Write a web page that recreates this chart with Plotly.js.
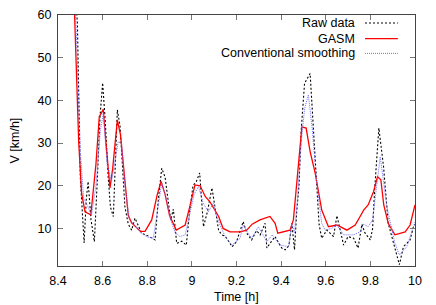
<!DOCTYPE html>
<html><head><meta charset="utf-8">
<script src="https://cdn.plot.ly/plotly-3.0.1.min.js"></script>
<style>html,body{margin:0;padding:0;background:#fff}#chart{width:436px;height:305px}</style>
</head><body><div id="chart"></div>
<script>
// Raw data
var rawT = [8.46,8.487,8.50,8.517,8.527,8.535,8.548,8.563,8.575,8.588,8.60,8.612,8.625,8.635,8.648,8.658,8.666,8.678,8.69,8.70,8.715,8.73,8.745,8.775,8.805,8.835,8.85,8.865,8.88,8.895,8.905,8.917,8.932,8.955,8.975,8.99,9.005,9.02,9.035,9.052,9.07,9.09,9.105,9.12,9.135,9.15,9.165,9.18,9.20,9.23,9.246,9.268,9.29,9.306,9.328,9.336,9.35,9.373,9.39,9.403,9.418,9.435,9.448,9.46,9.47,9.48,9.49,9.505,9.53,9.545,9.56,9.57,9.582,9.605,9.635,9.65,9.663,9.68,9.70,9.725,9.745,9.762,9.775,9.80,9.81,9.82,9.838,9.859,9.88,9.904,9.93,9.948,9.978,9.993,10.0];
var rawV = [80,58,22,6.6,17,21,12,6.9,20,36,44.1,35,22,15,12.8,28,37.8,34,22,15,11,9.6,12.4,8.9,8.2,7.3,17,24.1,22,16,12,14.5,6.5,7,6.1,14,20,21,23,10.4,14,19.5,14,9.5,8.5,8.1,7,5.7,6.9,11.6,8.9,7.3,9.5,8.5,11.2,5.4,6.5,8.1,6.5,5.4,5,6,11.2,5,14,20,33,44,46.3,32.3,19,11,7.7,9.6,8.1,13,10,6.1,8.1,7.7,5.4,11,9,7.3,10,19.8,33.5,24.5,11.2,6.5,1.5,5.7,7.3,10.4,11];
// GASM
var gasmT = [8.465,8.48,8.493,8.506,8.521,8.547,8.57,8.585,8.603,8.615,8.633,8.645,8.666,8.68,8.70,8.715,8.73,8.77,8.79,8.82,8.845,8.862,8.88,8.90,8.93,8.97,8.99,9.014,9.037,9.06,9.08,9.10,9.12,9.14,9.171,9.216,9.246,9.27,9.305,9.35,9.373,9.385,9.44,9.455,9.47,9.493,9.512,9.53,9.553,9.582,9.612,9.65,9.695,9.732,9.754,9.77,9.79,9.814,9.832,9.847,9.86,9.88,9.91,9.956,9.978,10.0];
var gasmV = [75,50,30,18.2,13.9,13.2,25,36.2,37.9,30,19.5,24,35.4,32,20,13,11.3,9.3,9.3,12,18,21,18,13,9.6,10.8,15,20.2,20,17.5,16.3,14.5,12.8,10,9.2,9.2,9.6,11,12,12.8,11.2,8.9,9.6,12,20.6,33.8,33.5,28,22.9,14.3,10.4,10.8,9.6,10.8,12.8,14.3,15.5,18.6,22.1,21.4,15.5,11.2,8.5,9.2,10.8,15.5];
// Conventional smoothing
var convT = [8.465,8.487,8.50,8.515,8.535,8.55,8.57,8.59,8.603,8.62,8.64,8.67,8.685,8.70,8.72,8.74,8.77,8.80,8.827,8.845,8.865,8.885,8.905,8.925,8.947,8.97,8.99,9.01,9.03,9.05,9.074,9.096,9.11,9.126,9.15,9.18,9.216,9.23,9.25,9.268,9.298,9.336,9.36,9.395,9.433,9.448,9.46,9.475,9.49,9.505,9.522,9.54,9.56,9.582,9.597,9.625,9.65,9.68,9.725,9.754,9.77,9.79,9.81,9.83,9.844,9.874,9.91,9.93,9.963,9.993,10.0];
var convV = [75,50,28,17,15,13,20,33,37,25,21,30.3,30,20,12,11,9,8,7.7,14,20.7,17,12,9,8.1,8.5,13,18,19.8,16,13.9,15.9,13,10.8,8,6.1,7.7,10.8,9,7.7,10.4,6.9,8.5,6.1,5.7,11.2,9,18,30,38,41.3,33,20.6,11.2,9.6,10,10.8,8.5,8.5,9.2,11,10.4,12,20.6,26.8,15.1,6.5,3.8,5.7,10.4,11.5];

var seriesNames = ['Raw data','GASM','Conventional smoothing'];
var xTicks = [8.4,8.6,8.8,9,9.2,9.4,9.6,9.8,10];
var yTicks = [10,20,30,40,50,60];
var xTitle = 'Time [h]';
var yTitle = 'V [km/h]';

var FONT = 'Liberation Sans, Arial, sans-serif';
var traces = [
  {x: rawT, y: rawV, name: seriesNames[0], mode:'lines', line:{color:'#000', width:1.1, dash:'2px,2px'}},
  {x: gasmT, y: gasmV, name: seriesNames[1], mode:'lines', line:{color:'#ff0000', width:1.3}},
  {x: convT, y: convV, name: seriesNames[2], mode:'lines', line:{color:'#7070ff', width:1, dash:'1px,1px'}}
];
var ax = {showline:true, mirror:'ticks', linecolor:'#444', linewidth:1, ticks:'inside', ticklen:5, tickcolor:'#777', showgrid:false, zeroline:false, tickfont:{family:FONT, size:12.5, color:'#000'}};
var layout = {
  width:436, height:305, margin:{l:58, r:21, t:15, b:39},
  paper_bgcolor:'#fff', plot_bgcolor:'#fff', showlegend:false,
  font:{family:FONT, size:12.5, color:'#000'},
  xaxis: Object.assign({}, ax, {range:[8.4,10], tickvals:xTicks, ticktext:xTicks.map(String), ticklabelstandoff:3}),
  yaxis: Object.assign({}, ax, {range:[1.2,60], tickvals:yTicks, ticktext:yTicks.map(String), ticklabelstandoff:3}),
  annotations: [
    {xref:'paper', yref:'paper', x:0.5, y:0, xanchor:'center', yanchor:'middle', yshift:-31, text:xTitle, showarrow:false, font:{family:FONT,size:12.5,color:'#000'}},
    {xref:'paper', yref:'paper', x:0, y:0.5, xanchor:'center', yanchor:'middle', xshift:-44, textangle:-90, text:yTitle, showarrow:false, font:{family:FONT,size:12.5,color:'#000'}}
  ],
  shapes: []
};
var legY = [0.968, 0.906, 0.847];
for (var i=0;i<3;i++){
  layout.annotations.push({xref:'paper', yref:'paper', x:0.838, y:legY[i], xanchor:'right', yanchor:'middle', text:seriesNames[i], showarrow:false, font:{family:FONT,size:12.5,color:'#000'}});
  layout.shapes.push({type:'line', xref:'paper', yref:'paper', x0:0.86, x1:0.952, y0:legY[i], y1:legY[i], line:traces[i].line});
}
Plotly.newPlot('chart', traces, layout, {staticPlot:true, displayModeBar:false});
</script></body></html>
